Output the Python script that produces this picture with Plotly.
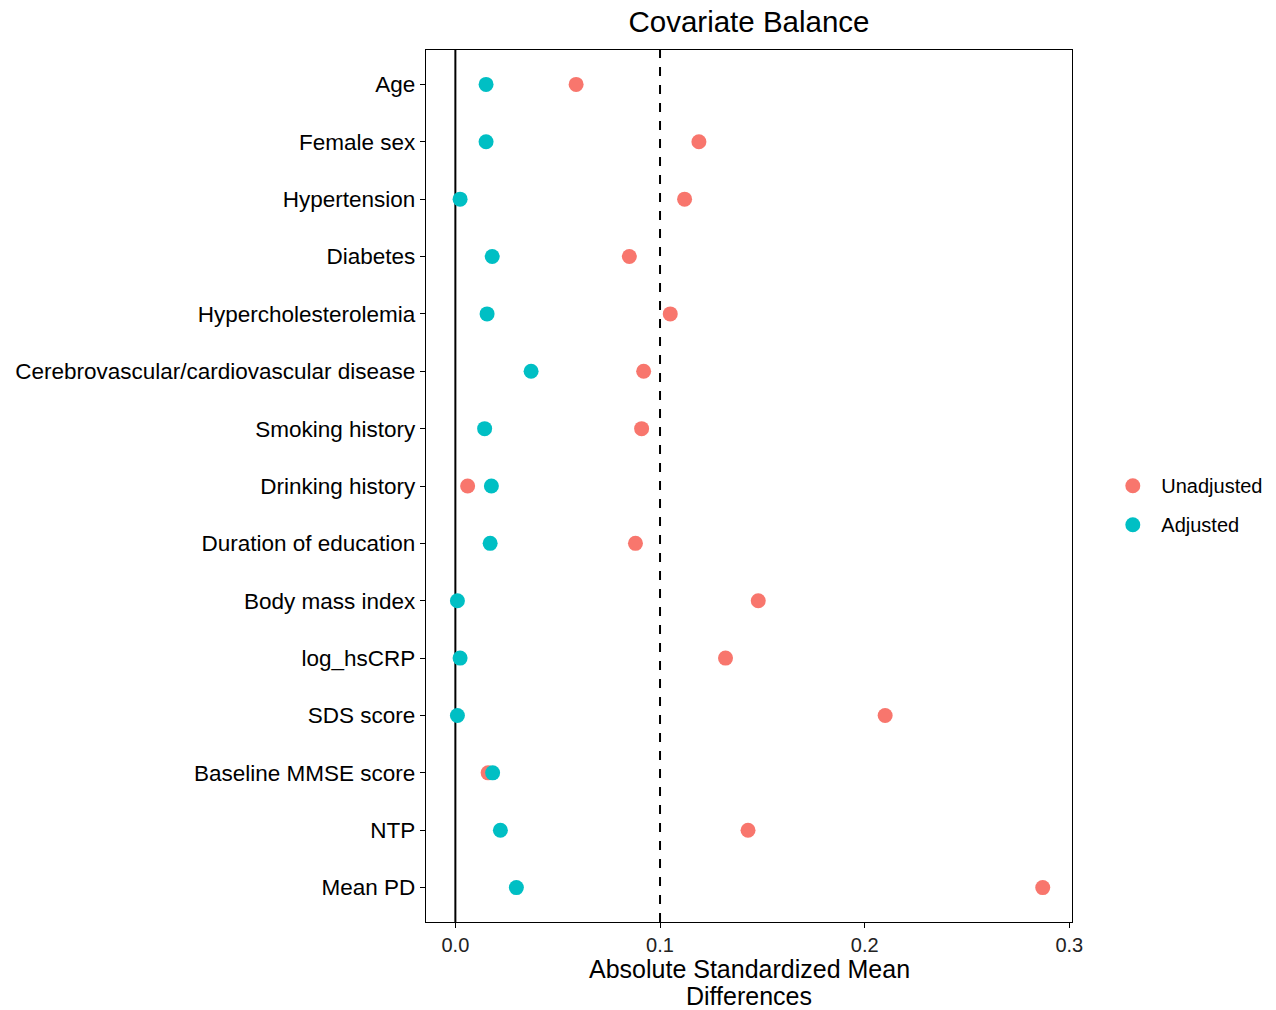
import plotly.graph_objects as go

covariates = [
    "Age", "Female sex", "Hypertension", "Diabetes", "Hypercholesterolemia",
    "Cerebrovascular/cardiovascular disease", "Smoking history", "Drinking history",
    "Duration of education", "Body mass index", "log_hsCRP", "SDS score",
    "Baseline MMSE score", "NTP", "Mean PD",
]
unadjusted = [0.059, 0.119, 0.112, 0.085, 0.105, 0.092, 0.091, 0.006,
              0.088, 0.148, 0.132, 0.210, 0.016, 0.143, 0.287]
adjusted = [0.015, 0.015, 0.0023, 0.018, 0.0155, 0.037, 0.0143, 0.0176,
            0.017, 0.001, 0.0023, 0.001, 0.0182, 0.022, 0.0298]
x_ticks = [0.0, 0.1, 0.2, 0.3]
x_tick_labels = ["0.0", "0.1", "0.2", "0.3"]
x_title_lines = ["Absolute Standardized Mean", "Differences"]
threshold = 0.1

FONT = "Liberation Sans, Arial, Helvetica, sans-serif"

fig = go.Figure()
fig.add_trace(go.Scatter(
    x=unadjusted, y=covariates, mode="markers", name="Unadjusted",
    legendgroup="u",
    marker=dict(color="#F8766D", size=15, line=dict(width=0)),
))
fig.add_trace(go.Scatter(
    x=adjusted, y=covariates, mode="markers", name="Adjusted",
    legendgroup="a",
    marker=dict(color="#00BFC4", size=15, line=dict(width=0)),
))

fig.add_vline(x=0, line=dict(color="black", width=2), layer="below")
fig.add_vline(x=threshold, line=dict(color="black", width=2, dash="dash"), layer="below")

# two-line x axis title with tight line spacing
for text, ypos in zip(x_title_lines, [-0.0539, -0.0849]):
    fig.add_annotation(text=text, x=0.5, xref="paper", y=ypos, yref="paper",
                       xanchor="center", yanchor="middle", showarrow=False,
                       font=dict(size=25, color="black", family=FONT))

fig.update_layout(
    width=1276, height=1010,
    margin=dict(l=426, r=204, t=50, b=88, autoexpand=False),
    paper_bgcolor="white", plot_bgcolor="white",
    font=dict(family=FONT, color="black"),
    title=dict(text="Covariate Balance", x=0.5, xref="paper", xanchor="center",
               y=1 - 22 / 1010, yref="container", yanchor="middle",
               font=dict(size=29.5, color="black", family=FONT)),
    showlegend=True,
    legend=dict(x=1.050, xanchor="left", y=0.478, yanchor="middle",
                font=dict(size=20, color="black", family=FONT),
                itemsizing="trace", tracegroupgap=10, itemwidth=47,
                traceorder="grouped",
                bgcolor="rgba(0,0,0,0)"),
)

fig.update_xaxes(
    range=[-0.01435, 0.3013], tickvals=x_ticks, ticktext=x_tick_labels,
    showgrid=False, zeroline=False, automargin=False,
    showline=True, linecolor="black", linewidth=1.3, mirror=True,
    ticks="outside", ticklen=5, tickcolor="black", tickwidth=1,
    tickfont=dict(size=20, color="#222222"),
)
fig.update_yaxes(
    type="category", categoryorder="array", categoryarray=covariates,
    range=[14.6, -0.6], automargin=False,
    showgrid=False, zeroline=False,
    showline=True, linecolor="black", linewidth=1.3, mirror=True,
    ticks="outside", ticklen=5, tickcolor="black", tickwidth=1,
    tickfont=dict(size=22.5, color="black"),
)

fig.write_html("out.html")
